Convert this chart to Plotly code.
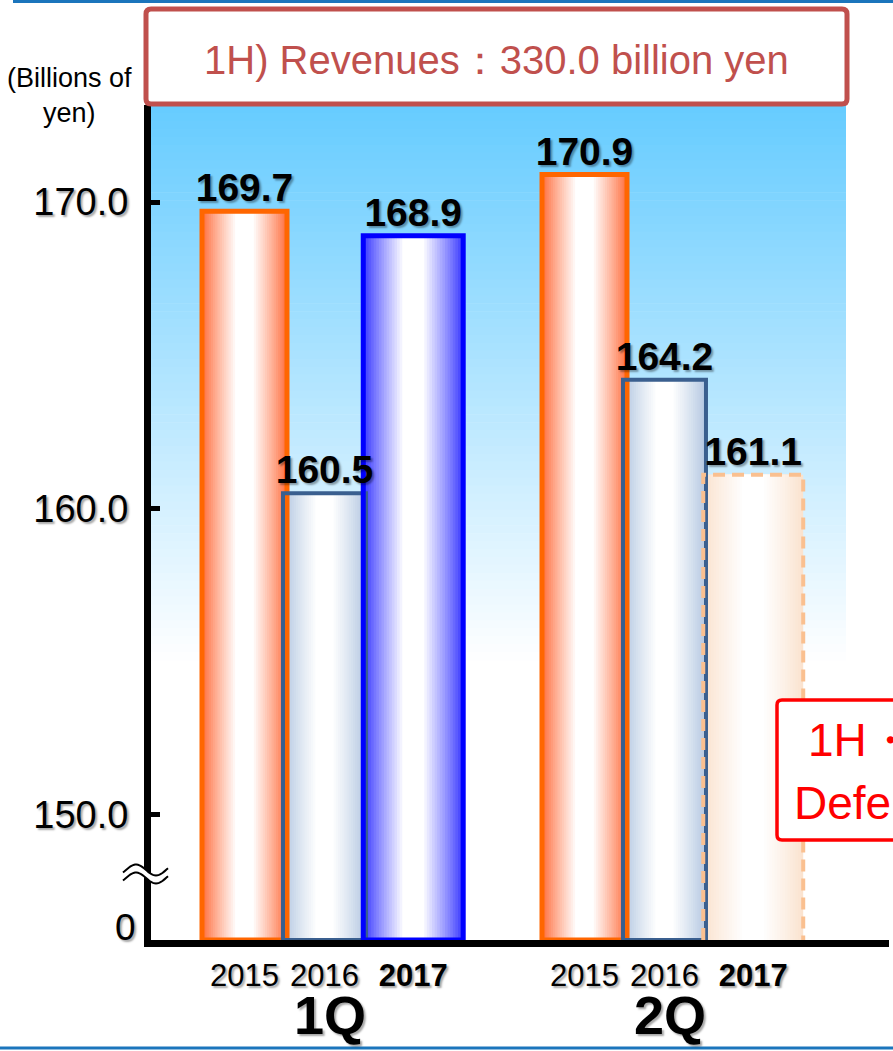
import plotly.graph_objects as go
import math

# ---------------- data ----------------
quarters = ["1Q", "2Q"]
years = ["2015", "2016", "2017"]
rev_2015 = [169.7, 170.9]
rev_2016 = [160.5, 164.2]
rev_2017 = [168.9, 161.1]
y_ticks = [150.0, 160.0, 170.0]
h1_total = 330.0

# ---------------- geometry / styles ----------------
W, H = 893, 1051
PL, PR, PT, PB = 151, 889, 105, 940          # plot area in pixels
Y_BOTTOM, Y_TOP = 145.92, 173.165             # broken axis: bottom edge shown as "0"
X_LEFT, X_RIGHT = -0.5103, 1.6603

def px_x(px):
    return (px - PL) / (PR - PL)

def px_y(py):
    return (PB - py) / (PB - PT)

offsets = [-0.2353, 0.0, 0.261]
widths = [0.25, 0.244, 0.294]
edge_fill = ["#FF7040", "#B4C8E2", "#3C3CFF"]
border_col = ["#FF6600", "#3A5F8F", "#0000FF"]
border_w = [5, 4, 5]
forecast_fill = "#FBE3CF"
forecast_border = "#FAC090"

series = [rev_2015, rev_2016, rev_2017]

bars = []
for qi, q in enumerate(quarters):
    for si in range(3):
        forecast = (si == 2 and qi == 1)
        bars.append(dict(
            x=qi + offsets[si], v=series[si][qi], w=widths[si],
            edge=forecast_fill if forecast else edge_fill[si],
            border=forecast_border if forecast else border_col[si],
            bw=0 if forecast else border_w[si], forecast=forecast))

def hex2rgb(h):
    h = h.lstrip("#")
    return tuple(int(h[i:i + 2], 16) for i in (0, 2, 4))

def mix(c, t):
    r, g, b = hex2rgb(c)
    return "rgb(%d,%d,%d)" % (r + (255 - r) * t, g + (255 - g) * t, b + (255 - b) * t)

fig = go.Figure()

# gradient bars: nested overlay layers
N = 16
for k in range(N):
    t = k / (N - 1)
    fig.add_trace(go.Bar(
        x=[b["x"] for b in bars],
        y=[b["v"] - Y_BOTTOM for b in bars],
        base=Y_BOTTOM,
        width=[b["w"] * (1 - 0.78 * t) for b in bars],
        marker=dict(color=[mix(b["edge"], t ** 0.9) for b in bars], line=dict(width=0)),
        hoverinfo="skip", showlegend=False))

# borders
fig.add_trace(go.Bar(
    x=[b["x"] for b in bars],
    y=[b["v"] - Y_BOTTOM for b in bars],
    base=Y_BOTTOM,
    width=[b["w"] for b in bars],
    marker=dict(color="rgba(0,0,0,0)",
                line=dict(color=[b["border"] for b in bars], width=[b["bw"] for b in bars])),
    hoverinfo="skip", showlegend=False))

# dashed outline for forecast bar
for b in bars:
    if b["forecast"]:
        x0, x1 = b["x"] - b["w"] / 2, b["x"] + b["w"] / 2
        fig.add_trace(go.Scatter(
            x=[x0, x0, x1, x1], y=[Y_BOTTOM, b["v"], b["v"], Y_BOTTOM],
            mode="lines", line=dict(color=forecast_border, width=4, dash="12px,7px"),
            hoverinfo="skip", showlegend=False))

# value labels
shadow = "2px 2px 2px rgba(0,0,0,0.35)"
fig.add_trace(go.Scatter(
    x=[b["x"] for b in bars], y=[b["v"] for b in bars],
    text=["%.1f" % b["v"] for b in bars], mode="text", textposition="top center",
    textfont=dict(family="Liberation Sans, Arial", size=39, color="black", weight="bold", shadow=shadow),
    hoverinfo="skip", showlegend=False, cliponaxis=False))

shapes = []
# background gradient (light blue to white)
g_top, g_bot = PT, 660
steps = 70
for i in range(steps):
    y0 = g_top + (g_bot - g_top) * i / steps
    y1 = g_top + (g_bot - g_top) * (i + 1) / steps
    t = (i + 0.5) / steps
    shapes.append(dict(type="rect", xref="paper", yref="paper", layer="below",
                       x0=px_x(PL), x1=px_x(846), y0=px_y(y1 + 0.6), y1=px_y(y0),
                       fillcolor=mix("#66CCFF", t), line=dict(width=0)))

# top / bottom rule lines
shapes.append(dict(type="line", xref="paper", yref="paper", x0=px_x(13), x1=px_x(W),
                   y0=px_y(1.5), y1=px_y(1.5), line=dict(color="#1B75BC", width=3)))
shapes.append(dict(type="line", xref="paper", yref="paper", x0=px_x(0), x1=px_x(W),
                   y0=px_y(1048), y1=px_y(1048), line=dict(color="#1B75BC", width=3)))

def rounded_rect(x0, y0, x1, y1, r):
    pts = [
        f"M {px_x(x0 + r)},{px_y(y0)}",
        f"L {px_x(x1 - r)},{px_y(y0)}",
        f"Q {px_x(x1)},{px_y(y0)} {px_x(x1)},{px_y(y0 + r)}",
        f"L {px_x(x1)},{px_y(y1 - r)}",
        f"Q {px_x(x1)},{px_y(y1)} {px_x(x1 - r)},{px_y(y1)}",
        f"L {px_x(x0 + r)},{px_y(y1)}",
        f"Q {px_x(x0)},{px_y(y1)} {px_x(x0)},{px_y(y1 - r)}",
        f"L {px_x(x0)},{px_y(y0 + r)}",
        f"Q {px_x(x0)},{px_y(y0)} {px_x(x0 + r)},{px_y(y0)}",
        "Z"]
    return " ".join(pts)

# title box
shapes.append(dict(type="path", xref="paper", yref="paper", layer="above",
                   path=rounded_rect(146, 9, 847, 104, 5),
                   fillcolor="white", line=dict(color="#C0504D", width=5)))
# red note box (clipped at right edge, as in the source slide)
shapes.append(dict(type="path", xref="paper", yref="paper", layer="above",
                   path=rounded_rect(777, 700, 960, 840, 5),
                   fillcolor="white", line=dict(color="#FF0000", width=3.5)))

# axis break symbol
def wave(dy, reverse=False):
    xs = [123 + 45 * i / 30 for i in range(31)]
    pts = [(x, 870 + dy - 5.5 * math.sin(2 * math.pi * (x - 126) / 40)) for x in xs]
    return pts[::-1] if reverse else pts

up = wave(0)
lo = wave(8, reverse=True)
fill_path = "M " + " L ".join(f"{px_x(x)},{px_y(y)}" for x, y in up + lo) + " Z"
shapes.append(dict(type="path", xref="paper", yref="paper", layer="above",
                   path=fill_path, fillcolor="white", line=dict(width=0)))
for pts in (up, lo[::-1]):
    shapes.append(dict(type="path", xref="paper", yref="paper", layer="above",
                       path="M " + " L ".join(f"{px_x(x)},{px_y(y)}" for x, y in pts),
                       line=dict(color="black", width=2)))

font = "Liberation Sans, Arial"
annotations = [
    dict(text=f"1H) Revenues：{h1_total:.1f} billion yen", x=px_x(496.5), y=px_y(60),
         xref="paper", yref="paper", showarrow=False, xanchor="center", yanchor="middle",
         font=dict(family=font, size=40, color="#C0504D")),
    dict(text="(Billions of<br>yen)", x=px_x(69), y=px_y(96), xref="paper", yref="paper",
         showarrow=False, xanchor="center", yanchor="middle", align="center",
         font=dict(family=font, size=27, color="black")),
    dict(text="0", x=px_x(138), y=px_y(927), xref="paper", yref="paper", showarrow=False,
         xanchor="right", yanchor="middle",
         font=dict(family=font, size=37, color="black", shadow=shadow)),
    dict(text="1H・Forecast", x=px_x(806), y=px_y(740), xref="paper", yref="paper",
         showarrow=False, xanchor="left", yanchor="middle",
         font=dict(family=font, size=46, color="#FF0000")),
    dict(text="Deferred", x=px_x(792), y=px_y(803), xref="paper", yref="paper",
         showarrow=False, xanchor="left", yanchor="middle",
         font=dict(family=font, size=46, color="#FF0000")),
]
for qi, q in enumerate(quarters):
    annotations.append(dict(text=f"<b>{q}</b>", x=qi + 0.0154, y=px_y(1015), xref="x", yref="paper",
                            showarrow=False, xanchor="center", yanchor="middle",
                            font=dict(family=font, size=54, color="black", shadow=shadow)))

tickvals, ticktext = [], []
for qi in range(len(quarters)):
    for si, yr in enumerate(years):
        tickvals.append(qi + offsets[si])
        ticktext.append(f"<b>{yr}</b>" if si == 2 else yr)

fig.update_layout(
    width=W, height=H, margin=dict(l=PL, r=W - PR, t=PT, b=H - PB, pad=0),
    paper_bgcolor="white", plot_bgcolor="white", barmode="overlay",
    showlegend=False, shapes=shapes, annotations=annotations,
    xaxis=dict(range=[X_LEFT, X_RIGHT], tickvals=tickvals, ticktext=ticktext, ticks="",
               showline=True, linecolor="black", linewidth=7, showgrid=False, zeroline=False,
               tickfont=dict(family=font, size=31, color="black", shadow=shadow),
               ticklabelstandoff=2, fixedrange=True),
    yaxis=dict(range=[Y_BOTTOM, Y_TOP], tickvals=y_ticks, ticktext=["%.1f" % v for v in y_ticks],
               ticks="inside", ticklen=9, tickwidth=5, tickcolor="black",
               showline=True, linecolor="black", linewidth=7, showgrid=False, zeroline=False,
               tickfont=dict(family=font, size=38, color="black", shadow=shadow),
               ticklabelstandoff=8, fixedrange=True),
)

fig.write_html("out.html", config={"displayModeBar": False})
